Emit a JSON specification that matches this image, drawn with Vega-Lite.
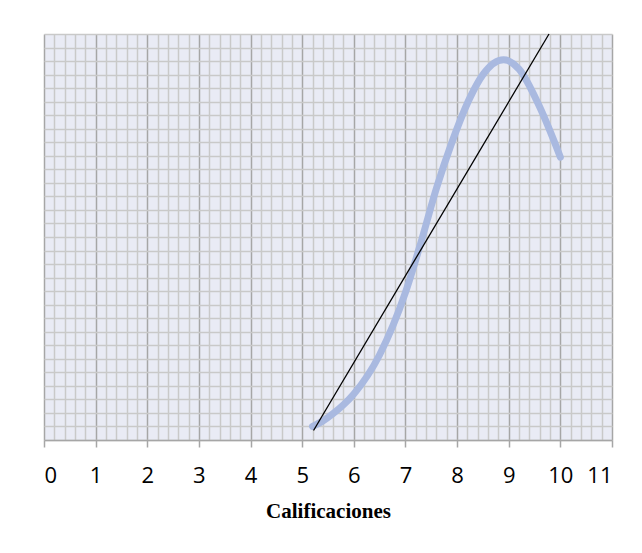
{
  "$schema": "https://vega.github.io/schema/vega-lite/v6.json",
  "autosize": {"type": "none"},
  "width": 568,
  "height": 406,
  "padding": {"left": 44, "top": 34, "right": 30, "bottom": 113},
  "background": "white",
  "config": {
    "view": {"fill": "#E9EBF5", "stroke": null},
    "axis": {"labelFont": "Open Sans", "titleFont": "Liberation Serif"}
  },
  "datasets": {
    "curve": [
      {"x": 5.2, "y": 1.0},
      {"x": 5.4, "y": 1.4},
      {"x": 5.6, "y": 1.95},
      {"x": 5.8, "y": 2.6},
      {"x": 6.0, "y": 3.4},
      {"x": 6.5, "y": 6.3},
      {"x": 7.0, "y": 10.9},
      {"x": 7.3, "y": 14.6},
      {"x": 7.6, "y": 18.6},
      {"x": 7.9, "y": 22.0},
      {"x": 8.25, "y": 25.3},
      {"x": 8.5, "y": 27.0},
      {"x": 8.9, "y": 28.1},
      {"x": 9.2, "y": 27.4},
      {"x": 9.6, "y": 24.6},
      {"x": 10.0, "y": 20.9}
    ],
    "trend": [
      {"x": 5.22, "y": 0.7},
      {"x": 9.78, "y": 30}
    ]
  },
  "layer": [
    {
      "data": {"name": "curve"},
      "mark": {"type": "line", "color": "#A9B9E0", "strokeWidth": 7, "strokeCap": "round", "interpolate": "monotone"},
      "encoding": {
        "x": {
          "field": "x", "type": "quantitative",
          "scale": {"domain": [0, 11], "nice": false, "zero": false},
          "axis": {
            "orient": "top", "labels": false, "ticks": false, "domain": false, "title": null,
            "grid": true, "gridColor": "#C9C9C9", "gridWidth": 1.5,
            "values": [0.2,0.4,0.6,0.8,1.2,1.4,1.6,1.8,2.2,2.4,2.6,2.8,3.2,3.4,3.6,3.8,4.2,4.4,4.6,4.8,5.2,5.4,5.6,5.8,6.2,6.4,6.6,6.8,7.2,7.4,7.6,7.8,8.2,8.4,8.6,8.8,9.2,9.4,9.6,9.8,10.2,10.4,10.6,10.8]
          }
        },
        "y": {
          "field": "y", "type": "quantitative",
          "scale": {"domain": [0, 30], "nice": false, "zero": true},
          "axis": {
            "labels": false, "ticks": false, "domain": false, "title": null,
            "grid": true, "gridColor": "#C9C9C9", "gridWidth": 1.5,
            "values": [0,1,2,3,4,5,6,7,8,9,10,11,12,13,14,15,16,17,18,19,20,21,22,23,24,25,26,27,28,29,30]
          }
        }
      }
    },
    {
      "data": {"name": "trend"},
      "mark": {"type": "line", "color": "black", "strokeWidth": 1.3},
      "encoding": {
        "x": {
          "field": "x", "type": "quantitative",
          "scale": {"domain": [0, 11], "nice": false, "zero": false},
          "axis": {
            "orient": "bottom",
            "values": [0,1,2,3,4,5,6,7,8,9,10,11],
            "grid": true, "gridColor": "#A6A6A6", "gridWidth": 1.5,
            "domain": true, "domainColor": "#A6A6A6", "domainWidth": 1.5,
            "ticks": true, "tickColor": "#A6A6A6", "tickSize": 7, "tickWidth": 1.5,
            "labelFontSize": 22, "labelColor": "black", "labelPadding": 18,
            "title": "Calificaciones", "titleFontSize": 21, "titleFontWeight": "bold", "titleColor": "black", "titlePadding": 14
          }
        },
        "y": {
          "field": "y", "type": "quantitative",
          "scale": {"domain": [0, 30], "nice": false, "zero": true},
          "axis": {
            "labels": false, "ticks": false, "domain": false, "title": null,
            "grid": true, "gridColor": "#C9C9C9", "gridWidth": 1.5,
            "values": [0,1,2,3,4,5,6,7,8,9,10,11,12,13,14,15,16,17,18,19,20,21,22,23,24,25,26,27,28,29,30]
          }
        }
      }
    }
  ],
  "resolve": {"axis": {"x": "independent"}}
}
